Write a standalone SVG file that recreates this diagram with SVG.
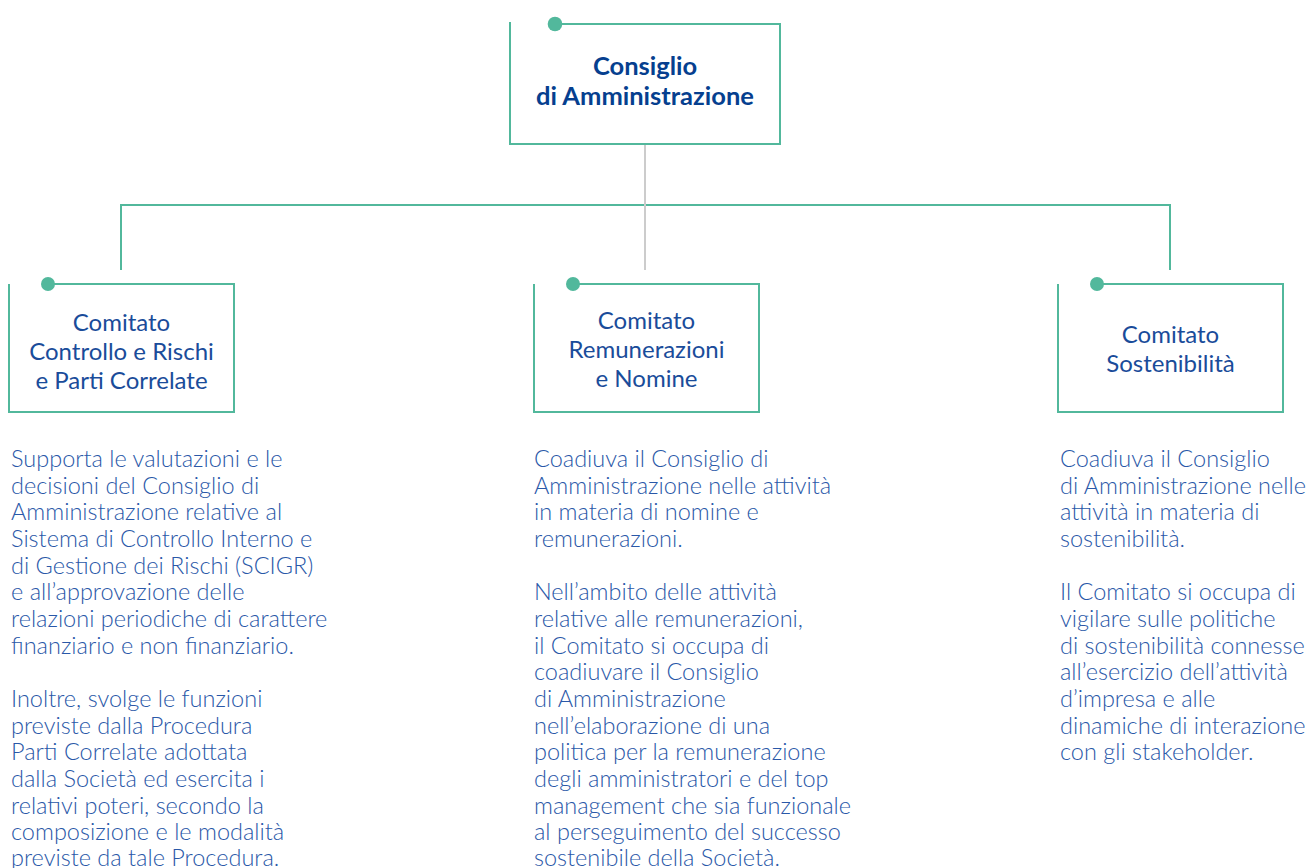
<svg xmlns="http://www.w3.org/2000/svg" width="1306" height="868" viewBox="0 0 1306 868">
<style>
.box{fill:none;stroke:#52B89C;stroke-width:2}
.dot{fill:#52B89C}
.con{fill:none;stroke:#52B89C;stroke-width:2}
.gray{fill:none;stroke:#CCCCCC;stroke-width:2}
.title{font-family:Lato,"Liberation Sans",sans-serif;font-weight:700;font-size:25.5px;fill:#063F8F;text-anchor:middle}
.label{font-family:Lato,"Liberation Sans",sans-serif;font-weight:400;font-size:24px;fill:#1A4C9A;text-anchor:middle}
.body{font-family:Lato,"Liberation Sans",sans-serif;font-weight:300;font-size:23.5px;fill:#2A58A8}
</style>
<rect width="1306" height="868" fill="#FFFFFF"/>
<g id="connectors">
<path class="con" d="M121 270 V205 H1170 V270"/>
<path class="gray" d="M645 145 V270"/>
</g>
<g id="node-cda">
<path class="box" d="M555 24 H780 V144 H510 V22"/>
<circle class="dot" cx="555" cy="24" r="7.3"/>
<text class="title" x="645" y="75">Consiglio</text>
<text class="title" x="645" y="105">di Amministrazione</text>
</g>
<g id="node-ccr">
<path class="box" d="M48 284 H234 V412 H9 V284"/>
<circle class="dot" cx="48" cy="284" r="7"/>
<text class="label" x="121.5" y="331">Comitato</text>
<text class="label" x="121.5" y="360">Controllo e Rischi</text>
<text class="label" x="121.5" y="389">e Parti Correlate</text>
</g>
<g id="node-crn">
<path class="box" d="M573 284 H759 V412 H534 V284"/>
<circle class="dot" cx="573" cy="284" r="7"/>
<text class="label" x="646.5" y="329">Comitato</text>
<text class="label" x="646.5" y="358">Remunerazioni</text>
<text class="label" x="646.5" y="387">e Nomine</text>
</g>
<g id="node-cs">
<path class="box" d="M1097 284 H1283 V412 H1058 V284"/>
<circle class="dot" cx="1097" cy="284" r="7"/>
<text class="label" x="1170.5" y="343">Comitato</text>
<text class="label" x="1170.5" y="372">Sostenibilità</text>
</g>
<g id="desc-ccr" class="body">
<text x="11" y="467">Supporta le valutazioni e le</text>
<text x="11" y="493.7">decisioni del Consiglio di</text>
<text x="11" y="520.3">Amministrazione relative al</text>
<text x="11" y="547">Sistema di Controllo Interno e</text>
<text x="11" y="573.7">di Gestione dei Rischi (SCIGR)</text>
<text x="11" y="600.3">e all’approvazione delle</text>
<text x="11" y="627">relazioni periodiche di carattere</text>
<text x="11" y="653.7">finanziario e non finanziario.</text>
<text x="11" y="707">Inoltre, svolge le funzioni</text>
<text x="11" y="733.7">previste dalla Procedura</text>
<text x="11" y="760.3">Parti Correlate adottata</text>
<text x="11" y="787">dalla Società ed esercita i</text>
<text x="11" y="813.7">relativi poteri, secondo la</text>
<text x="11" y="840.3">composizione e le modalità</text>
<text x="11" y="866">previste da tale Procedura.</text>
</g>
<g id="desc-crn" class="body">
<text x="534" y="467">Coadiuva il Consiglio di</text>
<text x="534" y="493.7">Amministrazione nelle attività</text>
<text x="534" y="520.3">in materia di nomine e</text>
<text x="534" y="547">remunerazioni.</text>
<text x="534" y="600.3">Nell’ambito delle attività</text>
<text x="534" y="627">relative alle remunerazioni,</text>
<text x="534" y="653.7">il Comitato si occupa di</text>
<text x="534" y="680.3">coadiuvare il Consiglio</text>
<text x="534" y="707">di Amministrazione</text>
<text x="534" y="733.7">nell’elaborazione di una</text>
<text x="534" y="760.3">politica per la remunerazione</text>
<text x="534" y="787">degli amministratori e del top</text>
<text x="534" y="813.7">management che sia funzionale</text>
<text x="534" y="840.3">al perseguimento del successo</text>
<text x="534" y="866">sostenibile della Società.</text>
</g>
<g id="desc-cs" class="body">
<text x="1060" y="467">Coadiuva il Consiglio</text>
<text x="1060" y="493.7">di Amministrazione nelle</text>
<text x="1060" y="520.3">attività in materia di</text>
<text x="1060" y="547">sostenibilità.</text>
<text x="1060" y="600.3">Il Comitato si occupa di</text>
<text x="1060" y="627">vigilare sulle politiche</text>
<text x="1060" y="653.7">di sostenibilità connesse</text>
<text x="1060" y="680.3">all’esercizio dell’attività</text>
<text x="1060" y="707">d’impresa e alle</text>
<text x="1060" y="733.7">dinamiche di interazione</text>
<text x="1060" y="760.3">con gli stakeholder.</text>
</g>
</svg>
